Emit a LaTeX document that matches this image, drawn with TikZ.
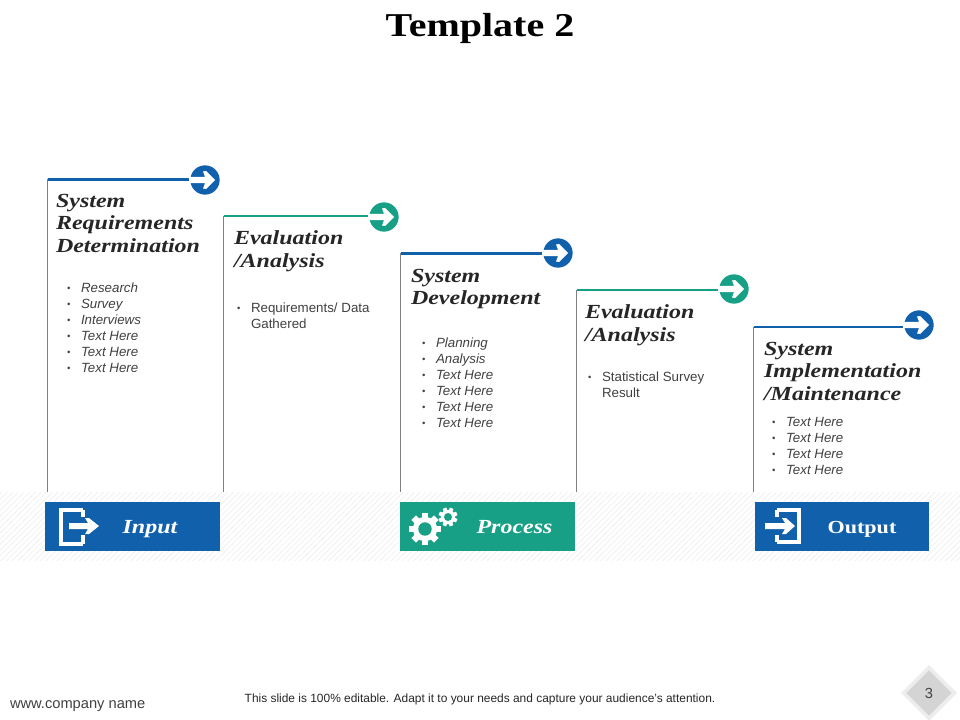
\documentclass[tikz,border=0pt]{standalone}
\usepackage{fontspec}
\setmainfont{Liberation Serif}
\setsansfont{Liberation Sans}
\newfontfamily\headfont[FakeStretch=1.2]{Liberation Serif}
\usetikzlibrary{patterns.meta,shapes.geometric}
\definecolor{stepblue}{HTML}{1060AC}
\definecolor{stepteal}{HTML}{17A085}
\definecolor{darktext}{HTML}{262626}
\definecolor{listgray}{HTML}{404040}
\newcommand{\listitem}[1]{\makebox[10.5pt][l]{\raisebox{.7pt}{\scalebox{.7}{\textbullet}}}#1\\}
\newcommand{\gearicon}[4]{
	\foreach \a in {0,45,...,315}
		\fill[white,rotate around={\a+#4:(#1,#2)}] (#1-0.2*#3,#2-#3) rectangle (#1+0.2*#3,#2);
	\fill[white] (#1,#2) circle[radius=0.76*#3];
	\fill[stepteal] (#1,#2) circle[radius=0.42*#3];
}
\tikzset{
	pics/circarrow/.style={code={
		\fill[white] (-15.5,-3.2) -- (0,-3.2) -- (-2,-8.5) -- (1,-9) -- (10,0) -- (1,9) -- (-2,8.5) -- (0,3.2) -- (-15.5,3.2) -- cycle;
	}}
}
\begin{document}
\begin{tikzpicture}[
		x=0.75pt,y=-0.75pt,
		every node/.style={inner sep=0pt,outer sep=0pt},
		stepdot/.style={circle,minimum size=22pt},
		headtext/.style={anchor=north west,align=left,text=darktext,
			font={\headfont\bfseries\itshape\fontsize{15}{16.9}\selectfont}},
		listtext/.style={anchor=north west,align=left,text=listgray,
			font={\sffamily\fontsize{10}{12}\selectfont}},
		listital/.style={listtext,font={\sffamily\itshape\fontsize{10}{12}\selectfont}},
		tagbox/.style={minimum width=131pt,minimum height=37pt},
		tagtext/.style={anchor=base,text=white,font={\headfont\bfseries\itshape\fontsize{15}{17}\selectfont}},
		iconline/.style={white,line width=3pt,line cap=butt,line join=miter},
		drop/.style={draw=gray,line width=0.75pt},
		topline/.style={line width=2.2pt}
		]
		\useasboundingbox (0,0) rectangle (960,720);
		\fill[pattern={Lines[angle=45,distance=3pt,line width=0.5pt]},pattern color=black!7] (0,492) rectangle (960,560);

		\node[text=black,font={\bfseries\fontsize{25}{30}\selectfont}] (title) at (480,28) {\headfont Template 2};

		\coordinate (p1) at (47.5,179.5);
		\coordinate (p2) at (223.5,216);
		\coordinate (p3) at (400.5,253.5);
		\coordinate (p4) at (576.5,290);
		\coordinate (p5) at (753.5,327);
		\coordinate (b1) at (47.5,492);
		\coordinate (b2) at (223.5,492);
		\coordinate (b3) at (400.5,492);
		\coordinate (b4) at (576.5,492);
		\coordinate (b5) at (753.5,492);

		\node[stepdot,fill=stepblue] (c1) at (205,180) {};
		\node[stepdot,fill=stepteal] (c2) at (384,217) {};
		\node[stepdot,fill=stepblue] (c3) at (558,253) {};
		\node[stepdot,fill=stepteal] (c4) at (734,289) {};
		\node[stepdot,fill=stepblue] (c5) at (919,325) {};
		\foreach \i in {1,...,5}
			\pic at (c\i) {circarrow};

		\draw[drop] (p1) -- (b1);
		\draw[drop] (p2) -- (b2);
		\draw[drop] (p3) -- (b3);
		\draw[drop] (p4) -- (b4);
		\draw[drop] (p5) -- (b5);
		\draw[topline,stepblue,shorten >=1.2pt] (p1) -- (p1 -| c1.west);
		\draw[topline,stepteal,shorten >=1.2pt] (p2) -- (p2 -| c2.west);
		\draw[topline,stepblue,shorten >=1.2pt] (p3) -- (p3 -| c3.west);
		\draw[topline,stepteal,shorten >=1.2pt] (p4) -- (p4 -| c4.west);
		\draw[topline,stepblue,shorten >=1.2pt] (p5) -- (p5 -| c5.west);

		\node[headtext] (h1) at (56,194) {System\\Requirements\\Determination};
		\node[headtext] (h2) at (234,231) {Evaluation\\/Analysis};
		\node[headtext] (h3) at (411,269) {System\\Development};
		\node[headtext] (h4) at (585,305) {Evaluation\\/Analysis};
		\node[headtext] (h5) at (764,342) {System\\Implementation\\/Maintenance};

		\node[listital] (l1) at (67,283) {\listitem{Research}\listitem{Survey}\listitem{Interviews}\listitem{Text Here}\listitem{Text Here}\listitem{Text Here}};
		\node[listtext] (l2) at (237,303) {\listitem{Requirements/ Data}\hspace*{10.5pt}Gathered};
		\node[listital] (l3) at (422,338) {\listitem{Planning}\listitem{Analysis}\listitem{Text Here}\listitem{Text Here}\listitem{Text Here}\listitem{Text Here}};
		\node[listtext] (l4) at (588,372) {\listitem{Statistical Survey}\hspace*{10.5pt}Result};
		\node[listital] (l5) at (772,417) {\listitem{Text Here}\listitem{Text Here}\listitem{Text Here}\listitem{Text Here}};

		\node[tagbox,fill=stepblue] (inbox) at (132.5,526.5) {};
		\node[tagbox,fill=stepteal] (procbox) at (487.5,526.5) {};
		\node[tagbox,fill=stepblue] (outbox) at (842,526.5) {};
		\node[tagtext] (intext) at (150,533) {Input};
		\node[tagtext] (proctext) at (514.5,533) {Process};
		\node[tagtext,font={\headfont\bfseries\fontsize{13.8}{17}\selectfont}] (outtext) at (862,533) {Output};

		\draw[iconline] (83,510) -- (61,510) -- (61,544) -- (83,544);
		\draw[iconline] (83,510) -- (83,517) (83,535) -- (83,544);
		\fill[white] (69,523) -- (88,523) -- (85,518) -- (89,518) -- (99,526) -- (89,534) -- (85,534) -- (88,529) -- (69,529) -- cycle;

		\draw[iconline] (777,510) -- (799,510) -- (799,542) -- (777,542);
		\draw[iconline] (777,510) -- (777,517) (777,535) -- (777,542);
		\fill[white] (765,523) -- (785,523) -- (782,518) -- (786,518) -- (795,526) -- (786,534) -- (782,534) -- (785,529) -- (765,529) -- cycle;

		\gearicon{425}{529}{16}{0}
		\gearicon{448}{517}{9.5}{22}

		\node[anchor=west,text=listgray,font={\sffamily\fontsize{11}{13}\selectfont}] (site) at (10,706) {www.company name};
		\node[text=darktext,font={\sffamily\fontsize{8.95}{11}\selectfont}] (note) at (480,699) {This slide is 100\% editable. Adapt it to your needs and capture your audience's attention.};

		\node[diamond,aspect=1,fill=black!7,minimum size=42pt] (pageback) at (929,693) {};
		\node[diamond,aspect=1,fill=black!17,minimum size=34pt,text=listgray,font={\sffamily\fontsize{11}{13}\selectfont}] (pagenum) at (929,693) {3};
	\end{tikzpicture}
\end{document}
